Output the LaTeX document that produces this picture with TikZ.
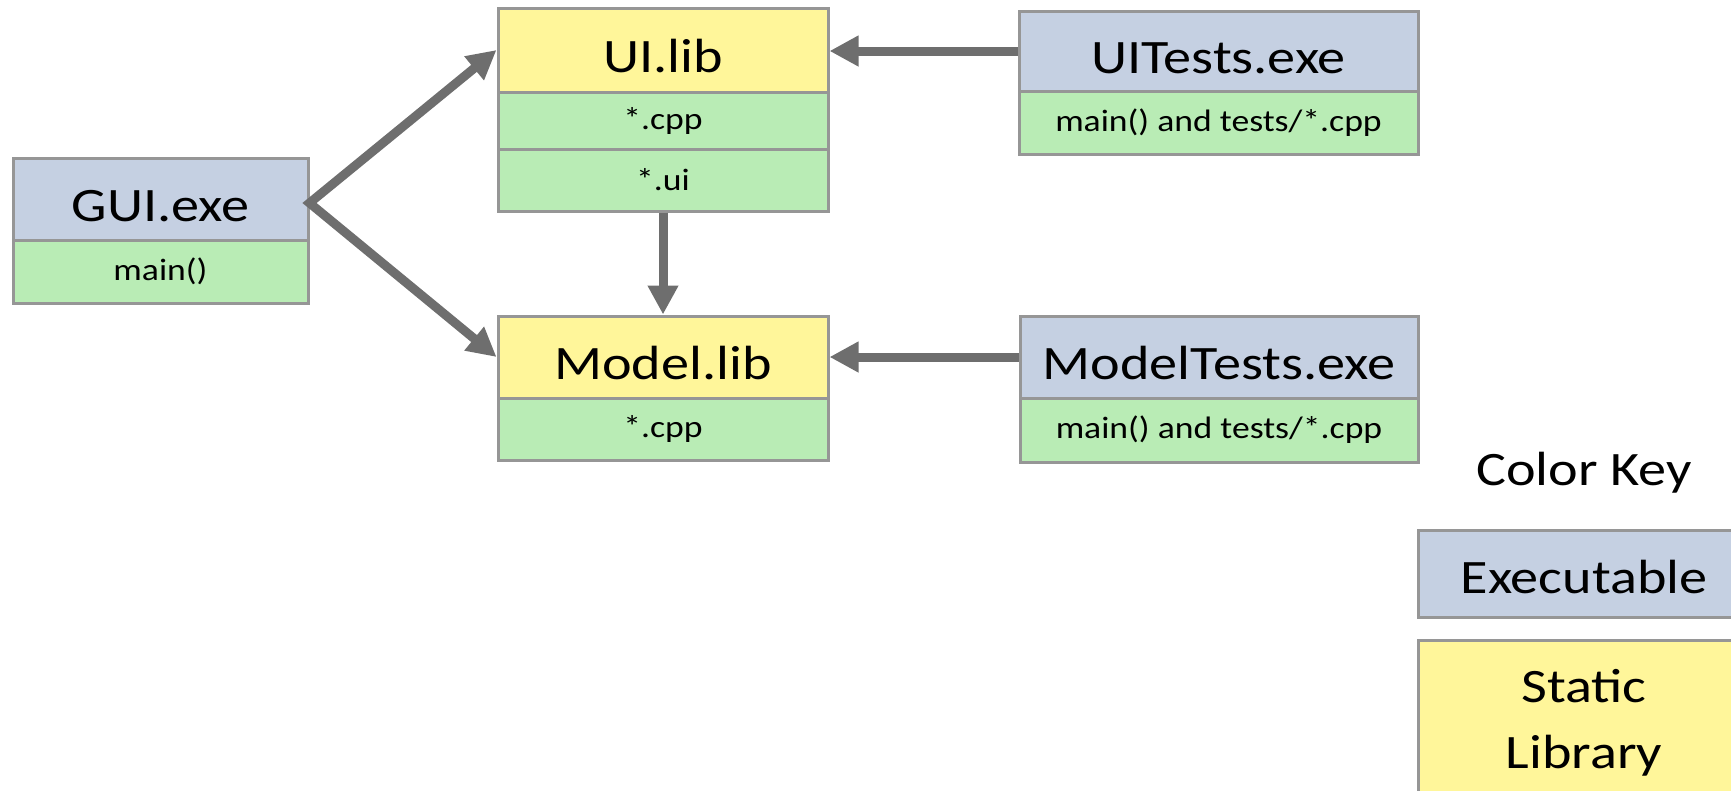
\documentclass[tikz,border=0pt]{standalone}
\usepackage{fontspec}
\setmainfont[FakeStretch=1.15]{Carlito}
\newfontfamily\titlefont[FakeStretch=1.17]{Carlito}
\usetikzlibrary{arrows.meta}
\definecolor{exefill}{RGB}{197,208,226}
\definecolor{libfill}{RGB}{255,246,154}
\definecolor{srcfill}{RGB}{185,236,181}
\definecolor{edge}{RGB}{150,150,150}
\definecolor{link}{RGB}{110,110,110}
\tikzset{
  box/.style={draw=edge, line width=3pt, inner sep=0pt, rectangle},
  title/.style={font=\titlefont\fontsize{48}{52}\selectfont, text height=44pt, text depth=0pt},
  exe/.style={box, fill=exefill, title},
  lib/.style={box, fill=libfill, title},
  src/.style={box, fill=srcfill, font=\fontsize{31}{34}\selectfont},
  conn/.style={draw=link, line width=9pt, line join=miter,
    -{Triangle[length=29pt,width=29pt]}},
}
\begin{document}
\begin{tikzpicture}[x=1pt,y=-1pt]
\useasboundingbox (0,0) rectangle (1731,790);
\clip (0,0) rectangle (1731,790);

% GUI.exe
\node[exe, minimum width=295pt, minimum height=82pt] (gui) at (160.5,199) {GUI.exe};
\node[src, minimum width=295pt, minimum height=63pt] (guimain) at (160.5,271.5) {main()};

% UI.lib
\node[lib, minimum width=330pt, minimum height=84pt] (ui) at (663,50) {UI.lib};
\node[src, minimum width=330pt, minimum height=57pt] (uicpp) at (663,120.5) {*.cpp};
\node[src, minimum width=330pt, minimum height=62pt] (uiui) at (663,180) {*.ui};

% Model.lib
\node[lib, minimum width=330pt, minimum height=82pt] (model) at (663,357) {Model.lib};
\node[src, minimum width=330pt, minimum height=62pt] (modelcpp) at (663,429) {*.cpp};

% UITests.exe
\node[exe, minimum width=399pt, minimum height=80pt] (uitests) at (1218.5,51) {UITests.exe};
\node[src, minimum width=399pt, minimum height=63pt] (uitestsrc) at (1218.5,122.5) {main() and tests/*.cpp};

% ModelTests.exe
\node[exe, minimum width=398pt, minimum height=82pt] (modeltests) at (1219,357) {ModelTests.exe};
\node[src, minimum width=398pt, minimum height=64pt] (modeltestsrc) at (1219,430) {main() and tests/*.cpp};

% Legend
\node[title] (keytitle) at (1584,463) {Color Key};
\node[exe, minimum width=332pt, minimum height=87pt, text height=40pt] (keyexe) at (1584,573.5) {Executable};
\node[lib, minimum width=332pt, minimum height=164pt, anchor=north, align=center,
  text height=, text depth=,
  font=\titlefont\fontsize{48}{66}\selectfont] (keylib) at (1584,639) {Static\\Library};

% Dependencies
\draw[conn, {Triangle[length=29pt,width=29pt]}-{Triangle[length=29pt,width=29pt]}]
  (ui.west) -- ([yshift=-4pt]gui.east) -- (model.west);
\draw[conn] (uiui.south) -- (model.north);
\draw[conn] (uitests.west) -- (uitests.west -| ui.east);
\draw[conn] (modeltests.west) -- (model.east);
\end{tikzpicture}
\end{document}
